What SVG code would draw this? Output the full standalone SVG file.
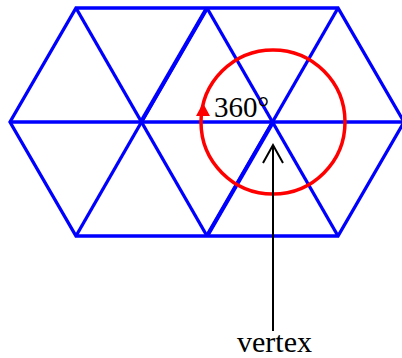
<svg xmlns="http://www.w3.org/2000/svg" width="402" height="358" viewBox="0 0 402 358">
<style>
.tri{fill:none;stroke:#0000ff;stroke-width:3.3;stroke-linejoin:miter}
.thick{stroke-width:4.2}
.ring{fill:none;stroke:#ff0000;stroke-width:3.5}
.ptr{fill:none;stroke:#000;stroke-width:2}
.lbl{font-family:"Liberation Serif","Times New Roman",serif;fill:#000}
</style>
<rect width="402" height="358" fill="#fff"/>
<g id="tiling">
<polygon class="tri" points="76,8 338,8 404,122 338,236 76,236 10,122"/>
<line class="tri" x1="10" y1="122" x2="404" y2="122"/>
<line class="tri" x1="76" y1="236" x2="207" y2="8"/>
<line class="tri" x1="207" y1="236" x2="338" y2="8"/>
<line class="tri" x1="76" y1="8" x2="207" y2="236"/>
<line class="tri" x1="207" y1="8" x2="338" y2="236"/>
<line class="tri thick" x1="207" y1="8" x2="141" y2="122"/>
<line class="tri thick" x1="207" y1="236" x2="273" y2="122"/>
</g>
<g id="angle">
<circle class="ring" cx="273" cy="122" r="72"/>
<polygon points="203,103 196,116 210,116" fill="#ff0000"/>
<text class="lbl" x="214" y="117" font-size="29">360°</text>
</g>
<g id="connectors">
<line class="ptr" x1="273" y1="331" x2="273" y2="145"/>
<polyline class="ptr" points="263,163 273,145 283,163"/>
</g>
<g id="vertex-label">
<text class="lbl" x="237" y="352" font-size="30">vertex</text>
</g>
</svg>
